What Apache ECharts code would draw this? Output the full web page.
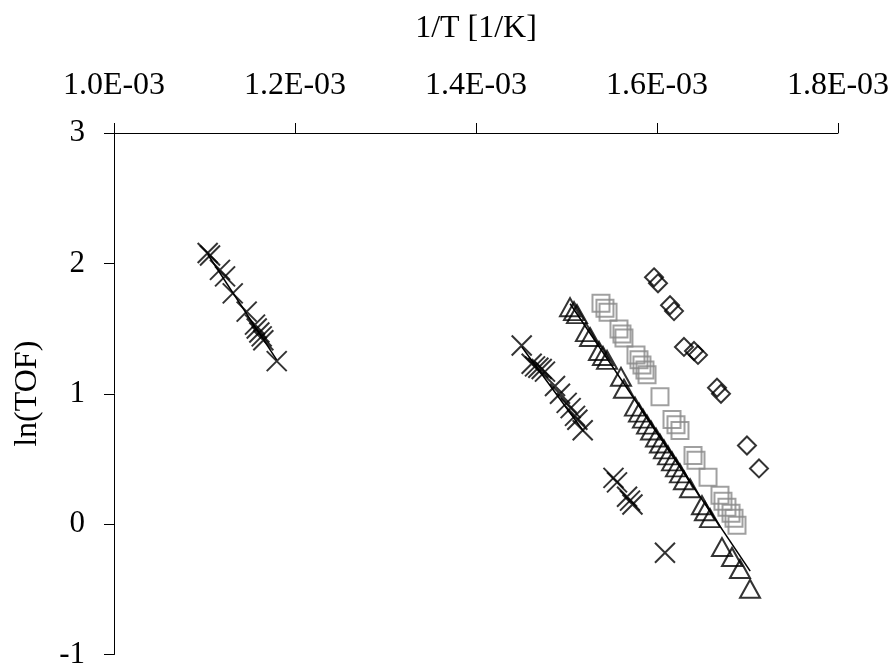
<!DOCTYPE html>
<html>
<head>
<meta charset="utf-8">
<title>ln(TOF) vs 1/T</title>
<script src="https://cdn.jsdelivr.net/npm/echarts@6/dist/echarts.min.js"></script>
<style>
    html, body { margin: 0; padding: 0; background: #fff; }
    #chart { width: 896px; height: 670px; }
</style>
</head>
<body>
<div id="chart"></div>
<script>
    // x = 1/T [1/K], y = ln(TOF)
    // crosses, upper left group
    var crossAX = [1.1035e-3, 1.1061e-3, 1.1171e-3, 1.1227e-3, 1.1312e-3, 1.1466e-3, 1.1558e-3, 1.1577e-3, 1.1606e-3, 1.1632e-3, 1.1650e-3, 1.1798e-3];
    var crossAY = [2.08, 2.06, 1.95, 1.90, 1.77, 1.63, 1.53, 1.50, 1.47, 1.44, 1.41, 1.25];
    var fitAX = [1.1035e-3, 1.1798e-3];
    var fitAY = [2.07, 1.26];

    // crosses, middle group
    var crossBX = [1.4505e-3, 1.4615e-3, 1.4652e-3, 1.4689e-3, 1.4726e-3, 1.4762e-3, 1.4873e-3, 1.4928e-3, 1.5002e-3, 1.5046e-3, 1.5094e-3, 1.5120e-3, 1.5179e-3];
    var crossBY = [1.37, 1.23, 1.21, 1.20, 1.19, 1.17, 1.06, 1.00, 0.93, 0.89, 0.83, 0.80, 0.72];
    var fitBX = [1.4505e-3, 1.5190e-3];
    var fitBY = [1.36, 0.71];

    // crosses, lower group (no fit)
    var crossCX = [1.5519e-3, 1.5558e-3, 1.5669e-3, 1.5702e-3, 1.5729e-3, 1.6088e-3];
    var crossCY = [0.355, 0.32, 0.21, 0.18, 0.15, -0.22];

    // triangles
    var triX = [1.5039e-3, 1.5083e-3, 1.5116e-3, 1.5215e-3, 1.5260e-3, 1.5359e-3, 1.5403e-3, 1.5448e-3, 1.5602e-3, 1.5635e-3,
        1.5757e-3, 1.5801e-3, 1.5845e-3, 1.5890e-3, 1.5934e-3, 1.5989e-3, 1.6033e-3, 1.6077e-3, 1.6122e-3, 1.6166e-3,
        1.6210e-3, 1.6254e-3, 1.6298e-3, 1.6365e-3, 1.6497e-3, 1.6530e-3, 1.6586e-3, 1.6718e-3, 1.6829e-3, 1.6917e-3, 1.7028e-3];
    var triY = [1.664, 1.634, 1.611, 1.473, 1.435, 1.328, 1.290, 1.260, 1.130, 1.038,
        0.901, 0.855, 0.809, 0.763, 0.718, 0.664, 0.618, 0.573, 0.527, 0.481,
        0.435, 0.389, 0.336, 0.275, 0.145, 0.099, 0.046, -0.176, -0.252, -0.344, -0.496];
    var fitTriX = [1.5040e-3, 1.7030e-3];
    var fitTriY = [1.69, -0.36];

    // grey squares
    var sqX = [1.5381e-3, 1.5425e-3, 1.5459e-3, 1.5580e-3, 1.5613e-3, 1.5635e-3, 1.5768e-3, 1.5801e-3, 1.5834e-3, 1.5867e-3,
        1.5890e-3, 1.6033e-3, 1.6166e-3, 1.6210e-3, 1.6254e-3, 1.6398e-3, 1.6431e-3, 1.6564e-3, 1.6696e-3, 1.6729e-3,
        1.6773e-3, 1.6818e-3, 1.6851e-3, 1.6884e-3];
    var sqY = [1.695, 1.656, 1.626, 1.496, 1.458, 1.427, 1.298, 1.260, 1.221, 1.183,
        1.145, 0.977, 0.802, 0.763, 0.718, 0.527, 0.489, 0.359, 0.221, 0.176,
        0.130, 0.084, 0.046, -0.008];

    // diamonds
    var diaX = [1.5967e-3, 1.6011e-3, 1.6144e-3, 1.6188e-3, 1.6298e-3, 1.6409e-3, 1.6453e-3, 1.6663e-3, 1.6707e-3, 1.6994e-3, 1.7127e-3];
    var diaY = [1.893, 1.847, 1.679, 1.634, 1.359, 1.328, 1.298, 1.046, 1.000, 0.603, 0.427];

    var xName = '1/T [1/K]';
    var yName = 'ln(TOF)';

    function pairs(xs, ys) {
        return xs.map(function (x, i) { return [x, ys[i]]; });
    }

    // 1.2E-03 style
    function sci(v) {
        var p = v.toExponential(1).split('e');
        var e = parseInt(p[1], 10);
        var a = Math.abs(e);
        return p[0] + 'E' + (e < 0 ? '-' : '+') + (a < 10 ? '0' : '') + a;
    }

    var FONT = 'Liberation Serif';
    var CROSS = 'path://M0,0L20,20M20,0L0,20';

    function markers(data, symbol, size, color) {
        return {
            type: 'scatter',
            data: data,
            symbol: symbol,
            symbolSize: size,
            itemStyle: { color: 'rgba(0,0,0,0)', borderColor: color, borderWidth: 2 },
            z: 3
        };
    }

    function fitLine(data) {
        return {
            type: 'line',
            data: data,
            showSymbol: false,
            symbol: 'none',
            lineStyle: { color: '#000', width: 1.5 },
            z: 4
        };
    }

    var myChart = echarts.init(document.getElementById('chart'));
    myChart.setOption({
        animation: false,
        backgroundColor: '#fff',
        grid: { left: 114, top: 133, width: 724, height: 524 },
        xAxis: {
            type: 'value',
            position: 'top',
            min: 0.001,
            max: 0.0018,
            interval: 0.0002,
            name: xName,
            nameLocation: 'middle',
            nameGap: 88,
            nameTextStyle: { fontFamily: FONT, fontSize: 32, color: '#000' },
            axisLine: { onZero: false, lineStyle: { color: '#000', width: 1 } },
            axisTick: { inside: false, length: 10, lineStyle: { color: '#000' } },
            axisLabel: { margin: 31, fontFamily: FONT, fontSize: 32, color: '#000', formatter: sci },
            splitLine: { show: false }
        },
        yAxis: {
            type: 'value',
            min: -1,
            max: 3,
            interval: 1,
            name: yName,
            nameLocation: 'middle',
            nameGap: 70,
            nameTextStyle: { fontFamily: FONT, fontSize: 32, color: '#000' },
            axisLine: { show: true, onZero: false, lineStyle: { color: '#000', width: 1 } },
            axisTick: { show: true, inside: false, length: 10, lineStyle: { color: '#000' } },
            axisLabel: { margin: 29, fontFamily: FONT, fontSize: 31, color: '#000' },
            splitLine: { show: false }
        },
        series: [
            markers(pairs(sqX, sqY), 'rect', 17, '#888888'),
            markers(pairs(triX, triY), 'triangle', [20, 18], '#000'),
            markers(pairs(diaX, diaY), 'diamond', 18, '#000'),
            markers(pairs(crossAX, crossAY), CROSS, 20, '#000'),
            markers(pairs(crossBX, crossBY), CROSS, 20, '#000'),
            markers(pairs(crossCX, crossCY), CROSS, 20, '#000'),
            fitLine(pairs(fitAX, fitAY)),
            fitLine(pairs(fitBX, fitBY)),
            fitLine(pairs(fitTriX, fitTriY))
        ]
    });
    window.addEventListener('resize', function () {
        myChart.resize();
    });
</script>
</body>
</html>
